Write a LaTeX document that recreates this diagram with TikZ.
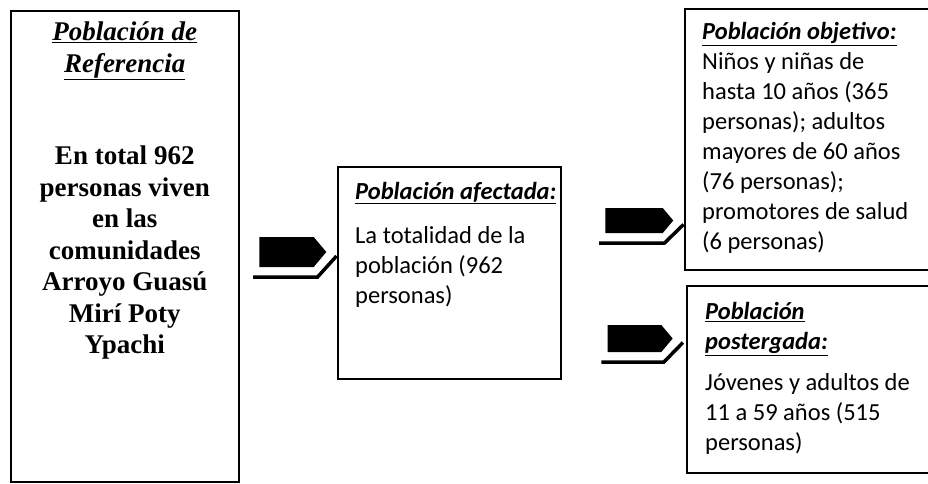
\documentclass[tikz,border=0pt]{standalone}
\usepackage{fontspec}
\setmainfont{Liberation Serif}
\newfontfamily\calibri{Carlito}
\usetikzlibrary{shapes.symbols,calc,positioning}

\tikzset{
  box/.style={draw, line width=1.5pt, anchor=north west, inner sep=0pt},
  reftext/.style={anchor=north, inner sep=0pt, align=center,
    font=\fontsize{27}{31.5}\selectfont\bfseries},
  boxtext/.style={anchor=north west, inner sep=0pt, align=left,
    font=\calibri\fontsize{24.5}{30}\selectfont},
  arrowbody/.style={signal, signal to=east, signal pointer angle=100,
    fill=black, inner sep=0pt},
  arrowshade/.style={line width=3.5pt},
}
\newcommand{\heading}[1]{\underline{\textbf{\textit{#1}}}}
% block arrow with its 3d edge: name, x, y, width, height
\newcommand{\blockarrow}[5]{%
  \node[arrowbody, minimum width=#4, minimum height=#5] (#1) at (#2,#3) {};
  \draw[arrowshade] ($(#1.west)+(-6,#5/2+10)$) -- ($(#1.east)+(-9,#5/2+10)$)
    -- ($(#1.east)+(10,4)$);
}

\begin{document}
\begin{tikzpicture}[x=1pt,y=-1pt]
  \useasboundingbox (0,0) rectangle (928,483);

  % boxes
  \node[box, minimum width=228, minimum height=471] (ref) at (10,10) {};
  \node[box, minimum width=223, minimum height=212] (afect) at (337,166) {};
  \node[box, minimum width=250, minimum height=261] (objet) at (684,8) {};
  \node[box, minimum width=250, minimum height=187] (poster) at (686,285) {};

  % texts
  \node[reftext] (reftitle) at ([yshift=-12pt]ref.north)
    {\heading{Población de}\\\heading{Referencia}};
  \node[reftext] (refbody) at ([yshift=-136pt]ref.north)
    {En total 962\\personas viven\\en las\\comunidades\\Arroyo Guasú\\Mirí Poty\\Ypachi};
  \node[boxtext] (afecttext) at ([xshift=18pt,yshift=-16pt]afect.north west)
    {\heading{Población afectada:}\\[14pt]La totalidad de la\\población (962\\personas)};
  \node[boxtext] (objettext) at ([xshift=18pt,yshift=-14pt]objet.north west)
    {\heading{Población objetivo:}\\Niños y niñas de\\hasta 10 años (365\\personas); adultos\\mayores de 60 años\\(76 personas);\\promotores de salud\\(6 personas)};
  \node[boxtext] (postertext) at ([xshift=19pt,yshift=-17pt]poster.north west)
    {\heading{Población}\\\heading{postergada:}\\[11pt]Jóvenes y adultos de\\11 a 59 años (515\\personas)};

  % arrows
  \blockarrow{flechaA}{286.5}{252}{67}{30}
  \blockarrow{flechaB}{634}{220.5}{68}{25}
  \blockarrow{flechaC}{634.5}{338.5}{65}{27}
\end{tikzpicture}
\end{document}
